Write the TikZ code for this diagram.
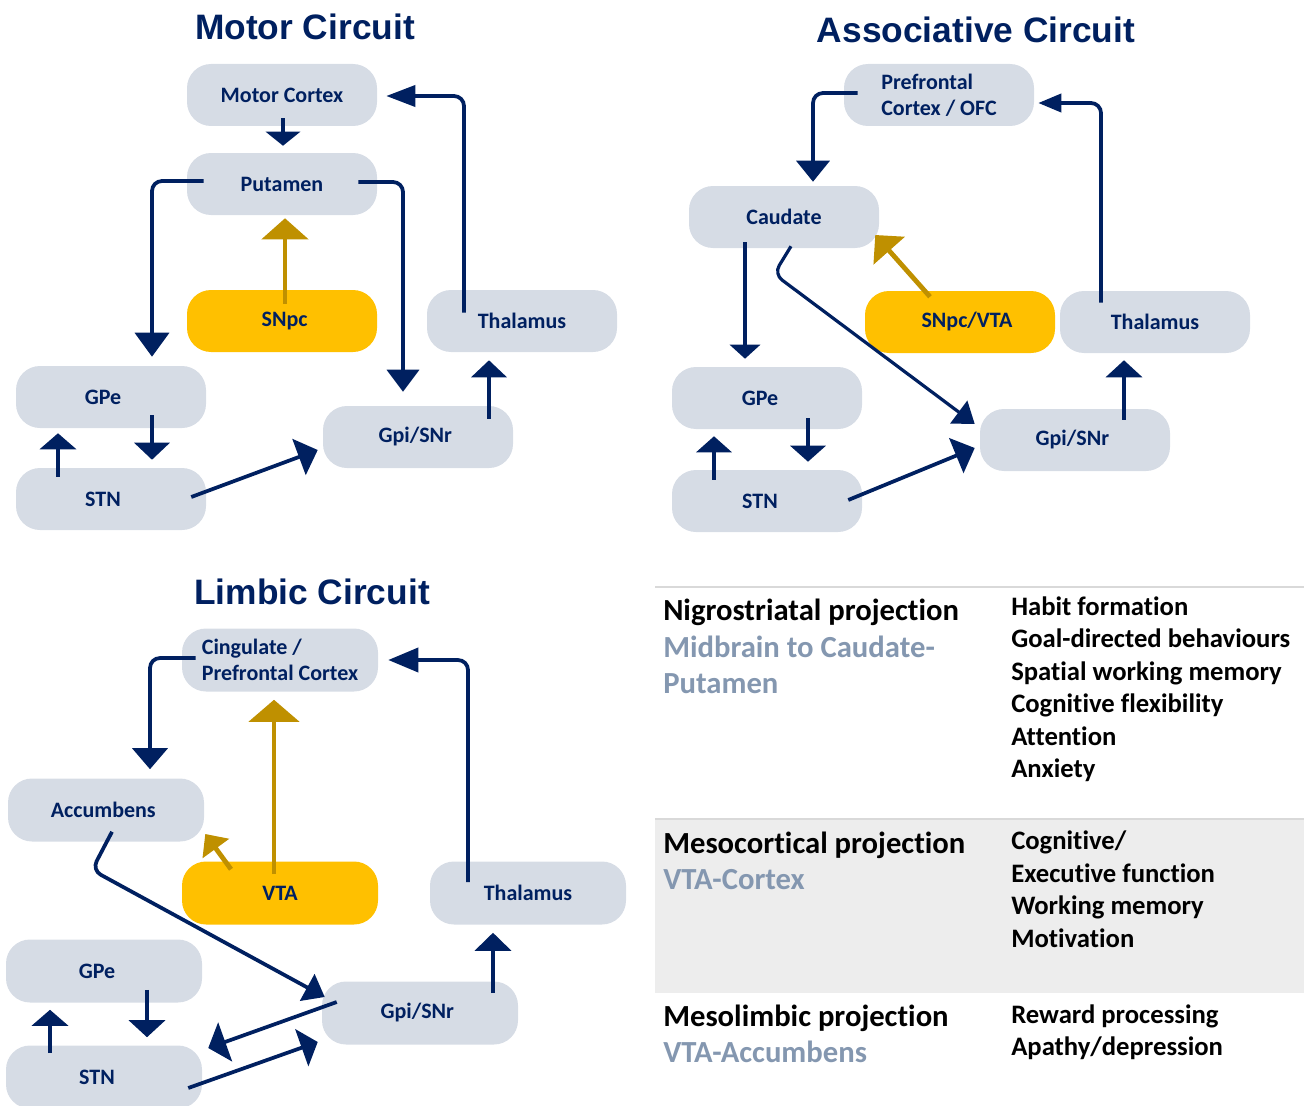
\documentclass[tikz,border=0pt]{standalone}
\usepackage{fontspec}
\setmainfont{Carlito}[Ligatures=NoCommon]
\newfontfamily\titlefont{Liberation Sans}
\usetikzlibrary{arrows.meta,calc}
\definecolor{navy}{HTML}{002060}
\definecolor{boxgray}{HTML}{D6DCE5}
\definecolor{yel}{HTML}{FFC000}
\definecolor{gold}{HTML}{BF9000}
\definecolor{subblue}{HTML}{8497B0}
\definecolor{bandgray}{HTML}{EDEDED}
\definecolor{rulegray}{HTML}{D9D9D9}
\newcommand\lsh[2]{#2\hspace*{#1}}
\newcommand\rsh[2]{\hspace*{#1}#2}
\begin{document}
\begin{tikzpicture}[x=0.75pt,y=-0.75pt,
  box/.style={fill=boxgray, rounded corners=18pt, minimum width=142.5pt, minimum height=46.5pt,
    inner sep=0pt, text=navy, font=\bfseries\fontsize{16.5}{19.5}\selectfont, align=center},
  lbox/.style={box, minimum width=147pt, minimum height=47.25pt},
  ybox/.style={fill=yel},
  ctitle/.style={text=navy, font=\titlefont\bfseries\fontsize{26.5}{30}\selectfont, anchor=base, inner sep=0pt},
  arr/.style={draw=navy, line width=2.8pt, rounded corners=7.5pt},
  thin/.style={line width=2.4pt},
  garr/.style={draw=gold, line width=3.6pt},
  ah/.style 2 args={-{Triangle[length=#1,width=#2]}},
  hd/.style={anchor=base west, inner sep=0pt, text=black, font=\bfseries\fontsize{23}{27}\selectfont},
  sub/.style={hd, text=subblue},
  itm/.style={anchor=base west, inner sep=0pt, text=black, font=\bfseries\fontsize{20}{24}\selectfont}
]
\path[use as bounding box] (0,0) rectangle (1304,1106);

% ---------------- Titles
\node[ctitle] (tmotor) at (305,40) {Motor Circuit};
\node[ctitle] (tassoc) at (976,43) {Associative Circuit};
\node[ctitle] (tlimb) at (312,604) {Limbic Circuit};

% ---------------- Motor circuit
\node[box] (mc) at (282,95) {Motor Cortex};
\node[box] (put) at (282,184) {Putamen};
\node[box, ybox] (snpc) at (282,321) {\rsh{4pt}{SNpc}};
\node[box] (mthal) at (522,321) {Thalamus};
\node[box] (mgpe) at (111,397) {\lsh{12pt}{GPe}};
\node[box] (mstn) at (111,499) {\lsh{12pt}{STN}};
\node[box] (mgpi) at (418,437) {\lsh{4pt}{Gpi/SNr}};

\draw[arr, ah={10.5pt}{25.5pt}] ($(mc.south)+(1,-8)$) -- ($(put.north)+(1,-7)$);
\draw[arr, ah={18pt}{25.5pt}] ($(put.west)+(17,-3)$) -- (152,181) -- ($(mgpe.north)+(41,-9)$);
\draw[arr, ah={16.5pt}{24pt}] ($(put.east)+(-19,-2)$) -- (403,182) -- ($(mgpi.north)+(-15,-14)$);
\draw[garr, ah={15.75pt}{34.5pt}] ($(snpc.north)+(3,14)$) -- ($(put.south)+(3,3)$);
\draw[arr, ah={21.75pt}{15.75pt}] ($(mthal.north)+(-58,23)$) -- (464,96) -- ($(mc.east)+(9,1)$);
\draw[arr, ah={12.75pt}{26.25pt}] ($(mgpi.north)+(71,13)$) -- ($(mthal.south)+(-33,8)$);
\draw[arr, ah={12.75pt}{26.25pt}] ($(mgpe.south)+(41,-13)$) -- ($(mstn.north)+(41,-8)$);
\draw[arr, ah={12pt}{27pt}] ($(mstn.north)+(-53,9)$) -- ($(mgpe.south)+(-53,5)$);
\draw[arr, ah={15pt}{28.5pt}] ($(mstn.east)+(-15,-2)$) -- ($(mgpi.west)+(-5,13)$);

% ---------------- Associative circuit
\node[box, align=left] (pfc) at (939,95) {Prefrontal\\Cortex / OFC};
\node[box] (cau) at (784,217) {Caudate};
\node[box, ybox] (svta) at (960,322) {\rsh{10.5pt}{SNpc/VTA}};
\node[box] (athal) at (1155,322) {Thalamus};
\node[box] (agpe) at (767,398) {\lsh{10.5pt}{GPe}};
\node[box] (astn) at (767,501) {\lsh{10.5pt}{STN}};
\node[box] (agpi) at (1075,440) {\lsh{4pt}{Gpi/SNr}};

\draw[arr, ah={15.75pt}{24.75pt}] ($(pfc.west)+(14,-2)$) -- (813,93) -- ($(cau.north)+(29,-4)$);
\draw[arr, thin, ah={10.5pt}{22.5pt}] ($(cau.south)+(-39,-6)$) -- ($(agpe.north)+(-22,-8)$);
\draw[arr, thin, ah={15pt}{21pt}] ($(cau.south)+(7,-2)$) -- (774,274) -- ($(agpi.west)+(-5,-16)$);
\draw[garr, ah={15.75pt}{30.75pt}] ($(svta.north)+(-30,6)$) -- ($(cau.east)+(-4,18)$);
\draw[arr, ah={17.25pt}{13.5pt}] ($(athal.north)+(-54,12)$) -- (1101,103) -- ($(pfc.east)+(4,8)$);
\draw[arr, ah={12.75pt}{27pt}] ($(agpi.north)+(49,11)$) -- ($(athal.south)+(-31,7)$);
\draw[arr, ah={12pt}{26.25pt}] ($(agpe.south)+(41,-11)$) -- ($(astn.north)+(41,-8)$);
\draw[arr, ah={12pt}{26.25pt}] ($(astn.north)+(-53,10)$) -- ($(agpe.south)+(-53,7)$);
\draw[arr, ah={15pt}{28pt}] ($(astn.east)+(-14,-1)$) -- ($(agpi.west)+(-5,8)$);

% ---------------- Limbic circuit
\node[lbox, align=left] (cing) at (280,660) {Cingulate /\\Prefrontal Cortex};
\node[lbox] (acc) at (106,810) {\lsh{4pt}{Accumbens}};
\node[lbox, ybox] (vta) at (280,893) {VTA};
\node[lbox] (lthal) at (528,893) {Thalamus};
\node[lbox] (lgpe) at (104,971) {\lsh{10.5pt}{GPe}};
\node[lbox] (lstn) at (104,1077) {\lsh{10.5pt}{STN}};
\node[lbox] (lgpi) at (420,1013) {\lsh{4pt}{Gpi/SNr}};

\draw[arr, ah={15.75pt}{26.25pt}] ($(cing.west)+(14,-2)$) -- (150,658) -- ($(acc.north)+(44,-9)$);
\draw[garr, ah={16.5pt}{37.5pt}] ($(vta.north)+(-6,13)$) -- ($(cing.south)+(-6,8)$);
\draw[garr, ah={13.5pt}{24pt}] ($(vta.north)+(-49,8)$) -- ($(acc.east)+(1,24)$);
\draw[arr, ah={15pt}{22.5pt}] ($(acc.south)+(6,-10)$) -- (92,870) -- ($(lgpi.west)+(3,-16)$);
\draw[arr, ah={22.5pt}{18pt}] ($(lthal.north)+(-60,21)$) -- (468,660) -- ($(cing.east)+(10,0)$);
\draw[arr, ah={13.5pt}{27pt}] ($(lgpi.north)+(73,12)$) -- ($(lthal.south)+(-35,8)$);
\draw[arr, ah={12.75pt}{27pt}] ($(lgpe.south)+(43,-13)$) -- ($(lstn.north)+(43,-8)$);
\draw[arr, ah={12pt}{27pt}] ($(lstn.north)+(-54,8)$) -- ($(lgpe.south)+(-54,7)$);
\draw[arr, ah={13.5pt}{30.75pt}] ($(lgpi.west)+(15,-11)$) -- ($(lstn.east)+(6,-29)$);
\draw[arr, ah={12.75pt}{29.25pt}] ($(lstn.east)+(-14,11)$) -- ($(lgpi.west)+(-4,29)$);

% ---------------- Right table
\fill[bandgray] (655,819) rectangle (1304,993);
\draw[rulegray, line width=1.5pt] (655,587) -- (1304,587);
\draw[rulegray, line width=1.5pt] (655,819) -- (1304,819);

\node[hd] (h1) at (663,620) {Nigrostriatal projection};
\node[sub] (s1a) at (663,657) {Midbrain to Caudate-};
\node[sub] (s1b) at (663,693) {Putamen};
\node[itm] (i11) at (1011,615) {Habit formation};
\node[itm] (i12) at (1011,647) {Goal-directed behaviours};
\node[itm] (i13) at (1011,680) {Spatial working memory};
\node[itm] (i14) at (1011,712) {Cognitive flexibility};
\node[itm] (i15) at (1011,745) {Attention};
\node[itm] (i16) at (1011,777) {Anxiety};

\node[hd] (h2) at (663,853) {Mesocortical projection};
\node[sub] (s2) at (663,889) {VTA-Cortex};
\node[itm] (i21) at (1011,849) {Cognitive/};
\node[itm] (i22) at (1011,882) {Executive function};
\node[itm] (i23) at (1011,914) {Working memory};
\node[itm] (i24) at (1011,947) {Motivation};

\node[hd] (h3) at (663,1026) {Mesolimbic projection};
\node[sub] (s3) at (663,1062) {VTA-Accumbens};
\node[itm] (i31) at (1011,1023) {Reward processing};
\node[itm] (i32) at (1011,1055) {Apathy/depression};
\end{tikzpicture}
\end{document}
